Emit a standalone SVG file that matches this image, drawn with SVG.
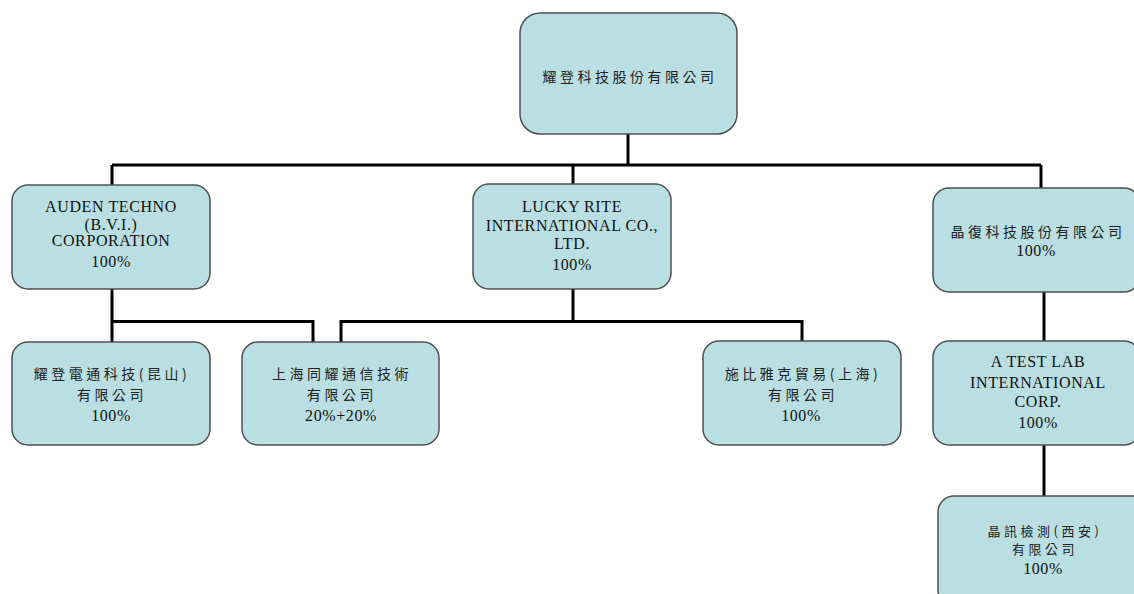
<svg xmlns="http://www.w3.org/2000/svg" width="1134" height="594" viewBox="0 0 1134 594">
<style>
.box{fill:#B9DFE2;stroke:#505050;stroke-width:1.5}
.en{font-family:"Liberation Serif","Times New Roman",serif;font-size:16px;fill:#111;text-anchor:middle;letter-spacing:0.6px}
.cj{font-family:"Noto Sans CJK TC","Noto Sans CJK SC",sans-serif;font-size:14px;fill:#222;text-anchor:middle;letter-spacing:3.5px}
.sm{font-size:13px}
.ln{fill:none;stroke:#000;stroke-width:3;stroke-linejoin:miter}
</style>
<rect width="1134" height="594" fill="#fff"/>
<g id="connectors">
<path class="ln" d="M628 134V165M112 165H1041M112 165V185M573 165V185M1041 165V188"/>
<path class="ln" d="M112 289V342M112 321.5H313V342"/>
<path class="ln" d="M573 289V321.5M341 342V321.5H802V341"/>
<path class="ln" d="M1044 292V341M1044 445V496"/>
</g>
<g id="n0">
<rect class="box" x="520" y="13" width="217" height="121" rx="20"/>
<text class="cj" x="630" y="82">耀登科技股份有限公司</text>
</g>
<g id="n1">
<rect class="box" x="12" y="185" width="198" height="104" rx="16"/>
<text class="en" x="111" y="212">AUDEN TECHNO</text>
<text class="en" x="111" y="230">(B.V.I.)</text>
<text class="en" x="111" y="246">CORPORATION</text>
<text class="en" x="111" y="267">100%</text>
</g>
<g id="n2">
<rect class="box" x="473" y="184" width="198" height="105" rx="16"/>
<text class="en" x="572" y="212">LUCKY RITE</text>
<text class="en" x="572" y="231">INTERNATIONAL CO.,</text>
<text class="en" x="572" y="249">LTD.</text>
<text class="en" x="572" y="270">100%</text>
</g>
<g id="n3">
<rect class="box" x="933" y="188" width="207" height="104" rx="16"/>
<text class="cj" x="1038" y="237">晶復科技股份有限公司</text>
<text class="en" x="1036" y="256">100%</text>
</g>
<g id="n4">
<rect class="box" x="12" y="342" width="198" height="103" rx="16"/>
<text class="cj" x="112" y="379">耀登電通科技(昆山)</text>
<text class="cj" x="112" y="400">有限公司</text>
<text class="en" x="111" y="421">100%</text>
</g>
<g id="n5">
<rect class="box" x="242" y="342" width="197" height="103" rx="16"/>
<text class="cj" x="342" y="379">上海同耀通信技術</text>
<text class="cj" x="342" y="400">有限公司</text>
<text class="en" x="341" y="421">20%+20%</text>
</g>
<g id="n6">
<rect class="box" x="703" y="341" width="198" height="104" rx="16"/>
<text class="cj" x="803" y="379">施比雅克貿易(上海)</text>
<text class="cj" x="803" y="400">有限公司</text>
<text class="en" x="801" y="421">100%</text>
</g>
<g id="n7">
<rect class="box" x="933" y="341" width="207" height="104" rx="16"/>
<text class="en" x="1038" y="367">A TEST LAB</text>
<text class="en" x="1038" y="388">INTERNATIONAL</text>
<text class="en" x="1038" y="407">CORP.</text>
<text class="en" x="1038" y="428">100%</text>
</g>
<g id="n8">
<rect class="box" x="938" y="496" width="210" height="110" rx="16"/>
<text class="cj sm" x="1045" y="536">晶訊檢測(西安)</text>
<text class="cj sm" x="1045" y="554">有限公司</text>
<text class="en" x="1043" y="574">100%</text>
</g>
</svg>
